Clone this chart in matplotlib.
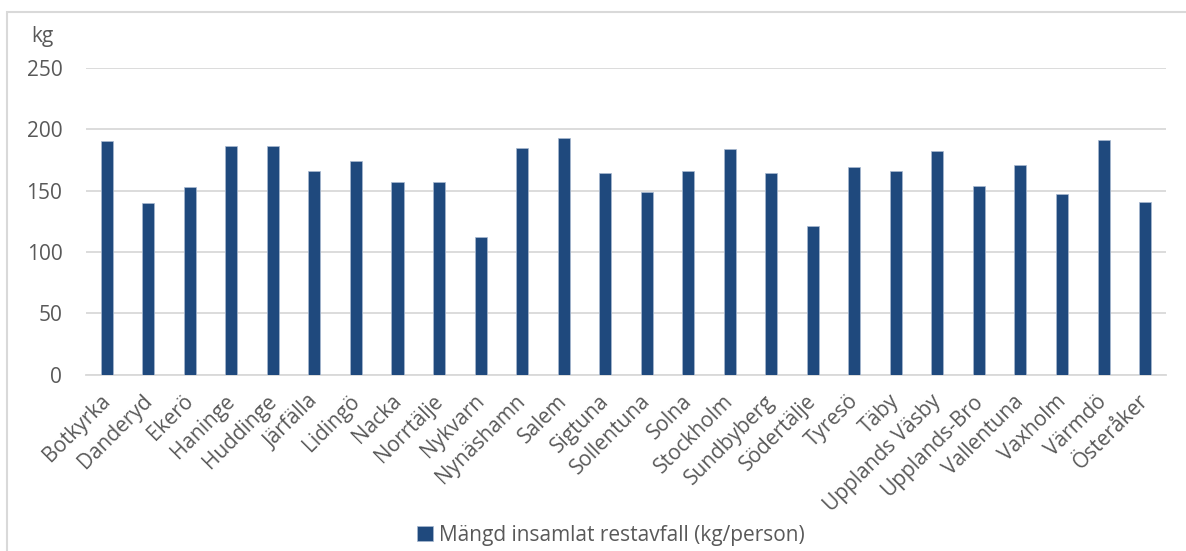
import matplotlib.pyplot as plt
from matplotlib.patches import Rectangle
from matplotlib.transforms import ScaledTranslation

kommuner = ["Botkyrka", "Danderyd", "Ekerö", "Haninge", "Huddinge", "Järfälla",
            "Lidingö", "Nacka", "Norrtälje", "Nykvarn", "Nynäshamn", "Salem",
            "Sigtuna", "Sollentuna", "Solna", "Stockholm", "Sundbyberg",
            "Södertälje", "Tyresö", "Täby", "Upplands Väsby", "Upplands-Bro",
            "Vallentuna", "Vaxholm", "Värmdö", "Österåker"]
restavfall = [190, 140, 153, 186, 186, 166, 174, 157, 157, 112, 185, 193, 164,
              149, 166, 184, 164, 121, 169, 166, 182, 154, 171, 147, 191, 141]
y_ticks = [0, 50, 100, 150, 200, 250]
serie_namn = "Mängd insamlat restavfall (kg/person)"

plt.rcParams['font.family'] = ['Open Sans', 'DejaVu Sans']
text_color = "#595959"
grid_color = "#d9d9d9"
bar_color = "#1f497d"
fs = 15

fig = plt.figure(figsize=(11.86, 5.51), dpi=100)
ax = fig.add_axes([0.0725, 0.32, 0.9105, 0.557])

x = range(len(kommuner))
ax.bar(x, restavfall, width=0.29, color=bar_color, edgecolor="#a9b9d0",
       linewidth=0.5, label=serie_namn, zorder=3)

ax.set_xlim(-0.5, len(kommuner) - 0.5)
ax.set_ylim(0, 250)
ax.set_yticks(y_ticks)
ax.yaxis.grid(True, color=grid_color, linewidth=1.3, zorder=0)
for s in ["top", "right", "left"]:
    ax.spines[s].set_visible(False)
ax.spines["bottom"].set_color(grid_color)
ax.spines["bottom"].set_linewidth(1.3)
ax.tick_params(axis="y", length=0, pad=17, labelsize=fs, labelcolor=text_color)
ax.tick_params(axis="x", length=0, pad=3)
ax.set_xticks(list(x))
ax.set_xticklabels(kommuner, rotation=45, ha="right", va="top",
                   rotation_mode="anchor", fontsize=fs, color=text_color)
# flytta etiketterna lite ned/vänster som i Excel
shift = ScaledTranslation(-7 / 100, -12 / 100, fig.dpi_scale_trans)
for lbl in ax.get_xticklabels():
    lbl.set_transform(lbl.get_transform() + shift)

fig.text(0.026, 0.933, "kg", fontsize=fs, color=text_color, va="center")

fig.legend(loc="center", bbox_to_anchor=(0.515, 0.029), frameon=False,
           fontsize=fs, labelcolor=text_color, handlelength=0.75,
           handleheight=0.75, handletextpad=0.3)

fig.patches.append(Rectangle((7 / 1186, -0.1), 1.2, 1 - 12 / 551 + 0.1,
                             transform=fig.transFigure, fill=False,
                             edgecolor=grid_color, linewidth=1.5))

fig.savefig("out.png", dpi=100)
